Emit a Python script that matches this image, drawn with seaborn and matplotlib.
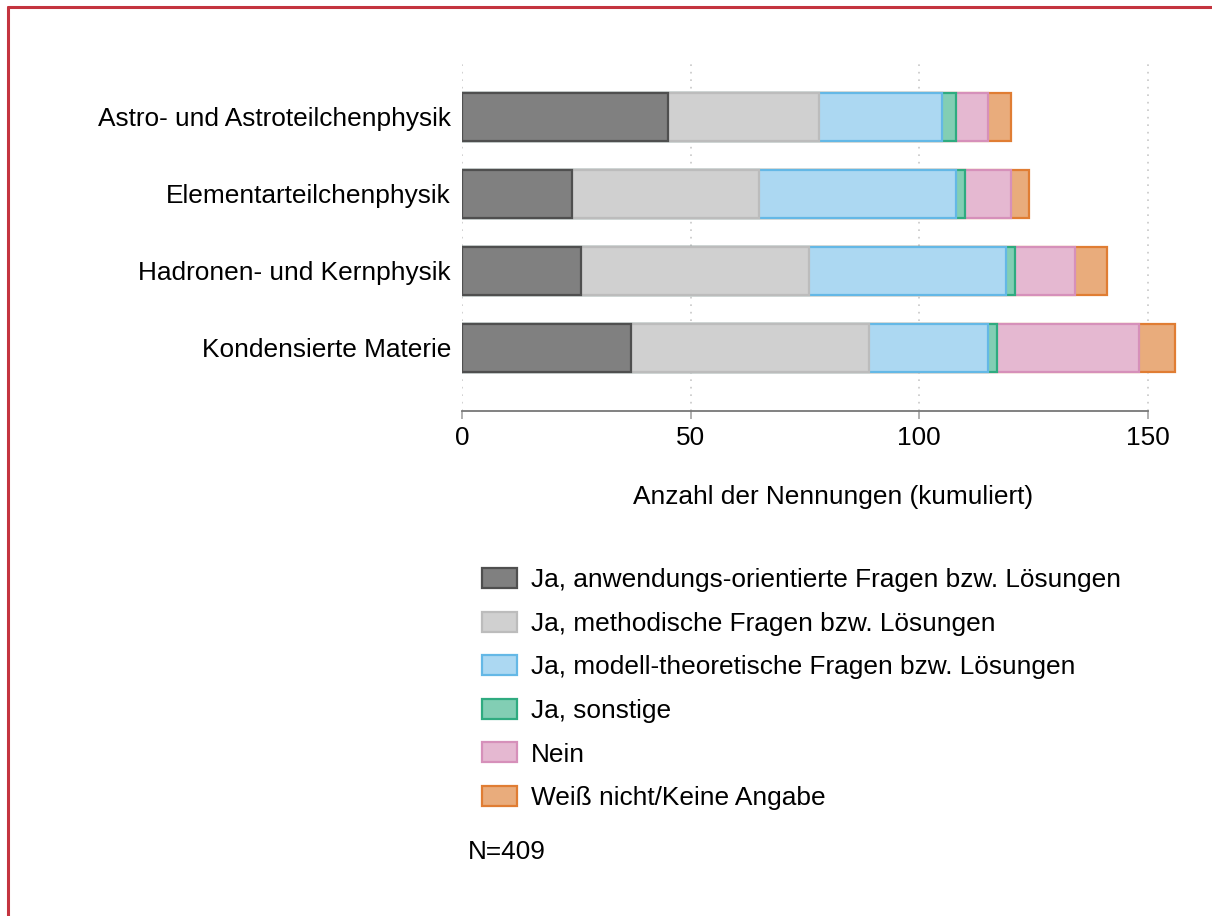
import numpy as np
import pandas as pd
import seaborn as sns
import matplotlib.pyplot as plt
from matplotlib.patches import Patch
from matplotlib.lines import Line2D

fields = ["Astro- und Astroteilchenphysik",
          "Elementarteilchenphysik",
          "Hadronen- und Kernphysik",
          "Kondensierte Materie"]

answers = ["Ja, anwendungs-orientierte Fragen bzw. Lösungen",
           "Ja, methodische Fragen bzw. Lösungen",
           "Ja, modell-theoretische Fragen bzw. Lösungen",
           "Ja, sonstige",
           "Nein",
           "Weiß nicht/Keine Angabe"]

anwendung = [45, 24, 26, 37]
methodisch = [33, 41, 50, 52]
modell = [27, 43, 43, 26]
sonstige = [3, 2, 2, 2]
nein = [7, 10, 13, 31]
weiss_nicht = [5, 4, 7, 8]

fill_colors = ["#808080", "#d0d0d0", "#acd8f2", "#82ceb4", "#e5b8d1", "#e9ac7c"]
edge_colors = ["#4f4f4f", "#bcbcbc", "#64b8e6", "#2fab80", "#d690ba", "#e07d33"]

sns.set_theme(style="white")
plt.rcParams['font.family'] = ['Liberation Sans', 'DejaVu Sans']
plt.rcParams['text.color'] = 'black'

fs = 18.9

df = pd.DataFrame({"field": fields,
                   answers[0]: anwendung,
                   answers[1]: methodisch,
                   answers[2]: modell,
                   answers[3]: sonstige,
                   answers[4]: nein,
                   answers[5]: weiss_nicht})
cum = df[answers].cumsum(axis=1)

fig = plt.figure(figsize=(12.12, 9.16), dpi=100)
ax = fig.add_axes([462 / 1212, 1 - 411 / 916, 742 / 1212, 351 / 916])

# stacked look: draw cumulative totals, largest first
for i in reversed(range(len(answers))):
    sns.barplot(x=cum[answers[i]], y=df["field"], orient="h", color=fill_colors[i],
                edgecolor=edge_colors[i], linewidth=1.6, width=0.62, saturation=1,
                ax=ax, zorder=3)

ax.set_xlim(0, 162.3)
ax.set_ylim(3.82, -0.74)
ax.set_xticks([0, 50, 100, 150])
ax.xaxis.grid(True, linestyle=(0, (1, 3.5)), color="#c8c8c8", linewidth=1.2)
ax.set_axisbelow(True)

for s in ["top", "right", "left"]:
    ax.spines[s].set_visible(False)
ax.spines["bottom"].set_bounds(0, 150)
ax.spines["bottom"].set_color("#777777")
ax.spines["bottom"].set_linewidth(1.3)

ax.tick_params(axis="x", bottom=True, length=6, width=1.3, color="#aaaaaa",
               labelsize=fs, pad=5, labelcolor="black")
ax.tick_params(axis="y", left=False, labelsize=fs, pad=2, labelcolor="black")
ax.set_ylabel("")
ax.set_xlabel("Anzahl der Nennungen (kumuliert)", fontsize=fs, labelpad=25, color="black")

handles = [Patch(facecolor=fill_colors[i], edgecolor=edge_colors[i], linewidth=1.6)
           for i in range(len(answers))]
leg = fig.legend(handles, answers, loc="upper left", bbox_to_anchor=(482 / 1212, 1 - 568 / 916),
                 frameon=False, fontsize=fs, handlelength=1.35, handleheight=0.8,
                 handletextpad=0.5, labelspacing=0.74, borderpad=0, borderaxespad=0)
for t in leg.get_texts():
    t.set_color("black")

fig.text(468 / 1212, 1 - 852 / 916, "N=409", fontsize=fs, va="center", ha="left", color="black")

# red frame of the document page
red = "#c4343f"
fig.add_artist(Line2D([8 / 1212, 8 / 1212], [0, 1 - 7 / 916], transform=fig.transFigure,
                      color=red, linewidth=2.2))
fig.add_artist(Line2D([8 / 1212, 1], [1 - 7 / 916, 1 - 7 / 916], transform=fig.transFigure,
                      color=red, linewidth=2.2))

fig.savefig("out.png", dpi=100)
